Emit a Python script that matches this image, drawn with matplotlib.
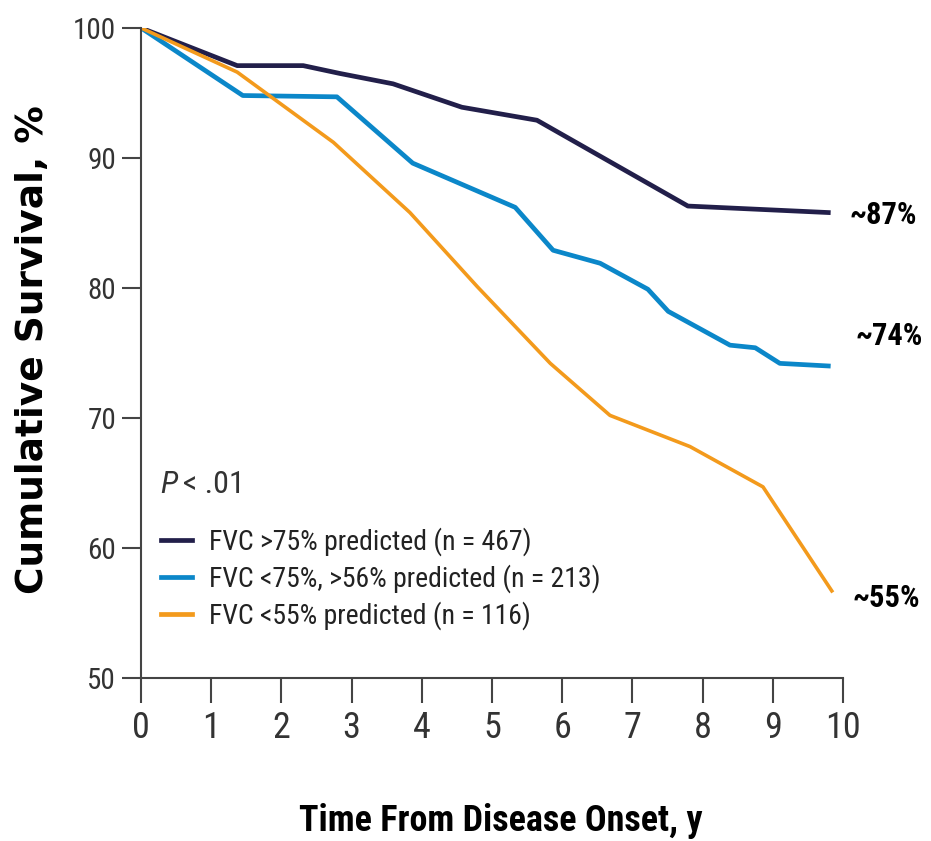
import matplotlib
matplotlib.use("Agg")
import matplotlib.pyplot as plt
from matplotlib.lines import Line2D

# --- DATA ---
t_high = [0, 1.37, 2.31, 2.83, 3.59, 4.57, 5.64, 7.79, 9.79]
s_high = [100, 97.1, 97.1, 96.5, 95.7, 93.9, 92.9, 86.3, 85.8]

t_mid = [0, 1.45, 2.79, 3.87, 5.33, 5.87, 6.54, 7.22, 7.51, 8.39, 8.75, 9.10, 9.79]
s_mid = [100, 94.8, 94.7, 89.6, 86.2, 82.9, 81.9, 79.9, 78.2, 75.6, 75.4, 74.2, 74.0]

t_low = [0, 1.37, 2.74, 3.83, 4.79, 5.83, 6.68, 7.82, 8.86, 9.84]
s_low = [100, 96.6, 91.2, 85.8, 80.1, 74.2, 70.2, 67.8, 64.7, 56.7]

labels = ["FVC >75% predicted (n = 467)",
          "FVC <75%, >56% predicted (n = 213)",
          "FVC <55% predicted (n = 116)"]
end_labels = ["~87%", "~74%", "~55%"]
end_pos = [(10.58, 85.6), (10.66, 76.3), (10.62, 56.15)]
colors = ["#221f4a", "#0b87c9", "#f39a1c"]

NARROW = "Roboto Condensed"

fig = plt.figure(figsize=(9.31, 8.41), dpi=100)
ax = fig.add_axes([0.1515, 0.1938, 0.754, 0.773])

ax.plot(t_high, s_high, color=colors[0], lw=3.4, solid_joinstyle="round")
ax.plot(t_mid, s_mid, color=colors[1], lw=3.4, solid_joinstyle="round")
ax.plot(t_low, s_low, color=colors[2], lw=2.6, solid_joinstyle="round")

ax.set_xlim(0, 10)
ax.set_ylim(50, 100)
ax.set_xticks(range(0, 11))
ax.set_yticks(range(50, 101, 10))
for s in ["top", "right"]:
    ax.spines[s].set_visible(False)
for s in ["left", "bottom"]:
    ax.spines[s].set_color("#444444")
    ax.spines[s].set_linewidth(1.5)
ax.tick_params(axis="x", length=18, width=1.5, color="#444444", pad=5)
ax.tick_params(axis="y", length=14, width=1.5, color="#444444", pad=4)
for lab in ax.get_xticklabels():
    lab.set_fontfamily(NARROW)
    lab.set_fontsize(26)
    lab.set_color("#333333")
for lab in ax.get_yticklabels():
    lab.set_fontfamily(NARROW)
    lab.set_fontsize(21)
    lab.set_color("#333333")

ax.set_ylabel("Cumulative Survival, %", fontsize=27, fontweight="bold",
              family="DejaVu Sans")
ax.yaxis.set_label_coords(-0.128, 0.505)
ax.set_xlabel("Time From Disease Onset, y", fontsize=26, fontweight="bold",
              family=NARROW)
ax.xaxis.set_label_coords(0.513, -0.192)

# end-point labels
for txt, (x, y) in zip(end_labels, end_pos):
    ax.text(x, y, txt, fontsize=22, fontweight="bold", family=NARROW,
            ha="center", va="center", clip_on=False)

# P value + legend
ax.text(0.27, 64.85, "P", fontsize=23, style="italic", family=NARROW,
        color="#333333", va="center")
ax.text(0.6, 64.85, "< .01", fontsize=23, family=NARROW,
        color="#333333", va="center")
handles = [Line2D([], [], color=c, lw=3.4) for c in colors]
leg = ax.legend(handles, labels, loc="upper left", bbox_to_anchor=(0.013, 0.249),
                frameon=False, handlelength=1.1, handletextpad=0.6,
                labelspacing=0.3, borderaxespad=0.0,
                prop={"family": NARROW, "size": 20})
for txt in leg.get_texts():
    txt.set_color("#222222")

fig.savefig("out.png", dpi=100)
